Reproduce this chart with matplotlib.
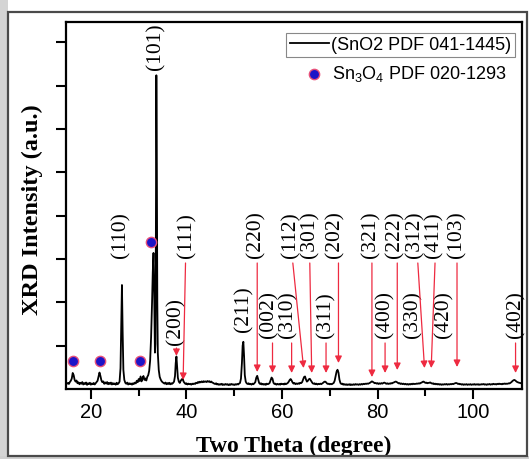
import matplotlib.pyplot as plt
from matplotlib.patches import Rectangle

# XRD pattern (2theta in degrees, intensity in a.u.)
two_theta = [
    15.0, 15.2, 15.4, 15.6, 15.8, 16.0, 16.2, 16.4, 16.6, 16.8,
    17.0, 17.2, 17.4, 17.6, 17.8, 18.0, 18.2, 18.4, 18.6, 18.8,
    19.0, 19.2, 19.4, 19.6, 19.8, 20.0, 20.2, 20.4, 20.6, 20.8,
    21.0, 21.2, 21.4, 21.6, 21.8, 22.0, 22.2, 22.4, 22.6, 22.8,
    23.0, 23.2, 23.4, 23.6, 23.8, 24.0, 24.2, 24.4, 24.6, 24.8,
    25.0, 25.2, 25.4, 25.6, 25.8, 26.0, 26.2, 26.35, 26.5, 26.65,
    26.8, 27.0, 27.2, 27.4, 27.6, 27.8, 28.0, 28.2, 28.4, 28.6,
    28.8, 29.0, 29.2, 29.4, 29.6, 29.8, 30.0, 30.2, 30.4, 30.6,
    30.8, 31.0, 31.2, 31.4, 31.6, 31.8, 32.0, 32.2, 32.4, 32.6,
    32.8, 32.95, 33.1, 33.25, 33.4, 33.5, 33.6, 33.7, 33.8, 33.9,
    34.0, 34.2, 34.4, 34.6, 34.8, 35.0, 35.2, 35.4, 35.6, 35.8,
    36.0, 36.2, 36.4, 36.6, 36.8, 37.0, 37.2, 37.4, 37.6, 37.75,
    37.9, 38.05, 38.2, 38.4, 38.6, 38.8, 39.0, 39.2, 39.4, 39.6,
    39.8, 40.0, 40.2, 40.4, 40.6, 40.8, 41.0, 41.2, 41.4, 41.6,
    41.8, 42.0, 42.2, 42.4, 42.6, 42.8, 43.0, 43.2, 43.4, 43.6,
    43.8, 44.0, 44.2, 44.4, 44.6, 44.8, 45.0, 45.2, 45.4, 45.6,
    45.8, 46.0, 46.2, 46.4, 46.6, 46.8, 47.0, 47.2, 47.4, 47.6,
    47.8, 48.0, 48.2, 48.4, 48.6, 48.8, 49.0, 49.2, 49.4, 49.6,
    49.8, 50.0, 50.2, 50.4, 50.6, 50.8, 51.0, 51.2, 51.4, 51.6,
    51.75, 51.9, 52.05, 52.2, 52.4, 52.6, 52.8, 53.0, 53.2, 53.4,
    53.6, 53.8, 54.0, 54.2, 54.4, 54.6, 54.8, 55.0, 55.2, 55.4,
    55.6, 55.8, 56.0, 56.2, 56.4, 56.6, 56.8, 57.0, 57.2, 57.4,
    57.6, 57.8, 58.0, 58.2, 58.4, 58.6, 58.8, 59.0, 59.2, 59.4,
    59.6, 59.8, 60.0, 60.2, 60.4, 60.6, 60.8, 61.0, 61.2, 61.4,
    61.6, 61.8, 62.0, 62.2, 62.4, 62.6, 62.8, 63.0, 63.2, 63.4,
    63.6, 63.8, 64.0, 64.2, 64.4, 64.6, 64.8, 65.0, 65.2, 65.4,
    65.6, 65.8, 66.0, 66.2, 66.4, 66.6, 66.8, 67.0, 67.2, 67.4,
    67.6, 67.8, 68.0, 68.2, 68.4, 68.6, 68.8, 69.0, 69.2, 69.4,
    69.6, 69.8, 70.0, 70.2, 70.4, 70.6, 70.8, 71.0, 71.2, 71.4,
    71.6, 71.8, 72.0, 72.2, 72.4, 72.6, 72.8, 73.0, 73.2, 73.4,
    73.6, 73.8, 74.0, 74.2, 74.4, 74.6, 74.8, 75.0, 75.2, 75.4,
    75.6, 75.8, 76.0, 76.2, 76.4, 76.6, 76.8, 77.0, 77.2, 77.4,
    77.6, 77.8, 78.0, 78.2, 78.4, 78.6, 78.8, 79.0, 79.2, 79.4,
    79.6, 79.8, 80.0, 80.2, 80.4, 80.6, 80.8, 81.0, 81.2, 81.4,
    81.6, 81.8, 82.0, 82.2, 82.4, 82.6, 82.8, 83.0, 83.2, 83.4,
    83.6, 83.8, 84.0, 84.2, 84.4, 84.6, 84.8, 85.0, 85.2, 85.4,
    85.6, 85.8, 86.0, 86.2, 86.4, 86.6, 86.8, 87.0, 87.2, 87.4,
    87.6, 87.8, 88.0, 88.2, 88.4, 88.6, 88.8, 89.0, 89.2, 89.4,
    89.6, 89.8, 90.0, 90.2, 90.4, 90.6, 90.8, 91.0, 91.2, 91.4,
    91.6, 91.8, 92.0, 92.2, 92.4, 92.6, 92.8, 93.0, 93.2, 93.4,
    93.6, 93.8, 94.0, 94.2, 94.4, 94.6, 94.8, 95.0, 95.2, 95.4,
    95.6, 95.8, 96.0, 96.2, 96.4, 96.6, 96.8, 97.0, 97.2, 97.4,
    97.6, 97.8, 98.0, 98.2, 98.4, 98.6, 98.8, 99.0, 99.2, 99.4,
    99.6, 99.8, 100.0, 100.2, 100.4, 100.6, 100.8, 101.0, 101.2, 101.4,
    101.6, 101.8, 102.0, 102.2, 102.4, 102.6, 102.8, 103.0, 103.2, 103.4,
    103.6, 103.8, 104.0, 104.2, 104.4, 104.6, 104.8, 105.0, 105.2, 105.4,
    105.6, 105.8, 106.0, 106.2, 106.4, 106.6, 106.8, 107.0, 107.2, 107.4,
    107.6, 107.8, 108.0, 108.2, 108.4, 108.6, 108.8, 109.0, 109.2, 109.4,
    109.6, 109.8, 110.0,
]
intensity = [
    62, 70, 58, 80, 95, 120, 185, 160, 105, 85,
    98, 66, 78, 55, 72, 60, 80, 52, 68, 58,
    75, 48, 66, 58, 72, 50, 64, 55, 70, 52,
    66, 78, 95, 140, 190, 150, 100, 78, 88, 60,
    76, 62, 80, 55, 70, 58, 74, 52, 68, 56,
    64, 50, 72, 55, 66, 85, 240, 700, 1200, 650,
    220, 105, 72, 60, 74, 52, 66, 58, 64, 50,
    66, 58, 74, 64, 95, 78, 115, 92, 145, 88,
    125, 150, 105, 122, 98, 140, 160, 210, 330, 600,
    1000, 1350, 1570, 1100, 420, 520, 1800, 3620, 2600, 1000,
    420, 220, 140, 110, 90, 78, 70, 62, 75, 55,
    68, 58, 72, 54, 66, 60, 70, 85, 150, 300,
    375, 260, 130, 85, 70, 95, 110, 120, 85, 70,
    58, 66, 52, 62, 55, 60, 50, 62, 56, 64,
    58, 72, 66, 80, 72, 84, 76, 88, 78, 90,
    82, 88, 80, 92, 84, 90, 78, 86, 74, 70,
    62, 58, 66, 52, 58, 48, 56, 50, 60, 46,
    54, 48, 58, 50, 56, 45, 55, 48, 58, 50,
    54, 46, 56, 50, 58, 52, 62, 70, 120, 300,
    500, 545, 380, 160, 85, 65, 58, 66, 55, 60,
    50, 62, 55, 66, 80, 130, 152, 110, 70, 58,
    66, 52, 60, 50, 58, 48, 62, 55, 60, 70,
    100, 132, 118, 72, 58, 62, 50, 60, 52, 58,
    50, 62, 55, 60, 52, 64, 56, 62, 70, 85,
    105, 115, 98, 75, 62, 70, 56, 64, 58, 66,
    60, 72, 68, 80, 110, 138, 145, 110, 85, 95,
    112, 118, 100, 80, 66, 60, 66, 55, 62, 52,
    60, 55, 62, 56, 64, 72, 82, 86, 78, 64,
    58, 62, 54, 60, 55, 62, 70, 95, 150, 200,
    222, 190, 110, 70, 58, 62, 50, 56, 48, 55,
    46, 54, 48, 56, 45, 53, 47, 55, 48, 57,
    50, 55, 48, 56, 50, 58, 52, 60, 55, 62,
    58, 64, 60, 66, 72, 80, 88, 82, 74, 66,
    70, 62, 68, 58, 66, 60, 68, 62, 70, 74,
    68, 60, 66, 58, 64, 60, 68, 64, 72, 76,
    82, 86, 80, 72, 64, 68, 58, 64, 56, 62,
    54, 60, 52, 58, 50, 58, 52, 60, 54, 62,
    56, 60, 58, 64, 60, 66, 62, 70, 74, 82,
    86, 78, 70, 74, 66, 70, 72, 76, 68, 62,
    66, 56, 62, 54, 60, 52, 58, 50, 56, 48,
    55, 50, 57, 52, 58, 50, 56, 52, 58, 54,
    60, 56, 62, 66, 70, 66, 58, 62, 54, 58,
    50, 56, 48, 55, 50, 56, 48, 54, 50, 56,
    48, 54, 50, 57, 49, 55, 50, 56, 48, 54,
    50, 57, 52, 58, 50, 55, 48, 56, 52, 58,
    50, 56, 52, 60, 54, 58, 52, 60, 55, 62,
    56, 60, 54, 62, 58, 64, 58, 62, 60, 66,
    64, 72, 80, 92, 100, 105, 98, 88, 80, 76,
    72, 70, 66,
]

# Sn3O4 reflections (marked with dots)
sn3o4_theta = [16.2, 22.0, 30.3, 32.5]
sn3o4_mark = [323, 323, 323, 1700]

# SnO2 hkl labels
hkl_names = ["(101)", "(110)", "(111)", "(220)", "(112)", "(301)", "(202)",
             "(321)", "(222)", "(312)", "(411)", "(103)",
             "(200)", "(211)", "(002)", "(310)", "(311)", "(400)", "(330)",
             "(420)", "(402)"]
hkl_x = [33.7, 26.35, 40.0, 54.5, 61.85, 65.75, 71.1,
         78.6, 83.7, 87.8, 91.7, 96.5,
         37.7, 52.0, 57.3, 61.2, 69.2, 81.55, 87.4,
         93.95, 108.85]
hkl_y = [3680, 1512, 1512, 1512, 1512, 1512, 1512,
         1512, 1512, 1512, 1512, 1512,
         508, 658, 589, 589, 589, 589, 589,
         589, 589]

# red arrows: from label down to the reflection
arrow_x0 = [39.8, 37.9, 54.8, 58.0, 62.0, 62.25, 65.8, 69.2, 71.8, 78.8,
            81.55, 84.1, 88.4, 92.0, 96.6, 108.85]
arrow_y0 = [1454, 473, 1454, 531, 531, 1454, 1454, 531, 1454, 1454,
            531, 1454, 1454, 1454, 1454, 531]
arrow_x1 = [39.3, 37.9, 54.8, 58.0, 62.0, 64.5, 66.2, 69.2, 71.8, 78.8,
            81.55, 84.1, 89.8, 91.2, 96.6, 108.85]
arrow_y1 = [104, 381, 196, 185, 185, 242, 185, 185, 300, 138,
            185, 219, 242, 242, 254, 185]

SERIF = "Liberation Serif"
SANS = "Liberation Sans"
RED = "#ee2a40"

plt.rcParams["mathtext.default"] = "regular"
plt.rcParams["font.family"] = SANS

fig = plt.figure(figsize=(5.29, 4.59), dpi=100)

# screenshot-like frame
fig.add_artist(Rectangle((0, 0), 8 / 529, 1, transform=fig.transFigure,
                         facecolor="#d4d4d4", edgecolor="none"))
fig.add_artist(Rectangle((0, 0), 1, 3 / 459, transform=fig.transFigure,
                         facecolor="#cfcfcf", edgecolor="none"))
fig.add_artist(Rectangle((8 / 529, 3 / 459), 519 / 529, 444 / 459,
                         transform=fig.transFigure, fill=False,
                         edgecolor="#4a4a4a", lw=1.6))

ax = fig.add_axes([0.1248, 0.1525, 0.862, 0.7996])

line, = ax.plot(two_theta, intensity, color="black", lw=1.3,
                label="(SnO2 PDF 041-1445)")
dots = ax.scatter(sn3o4_theta, sn3o4_mark, s=55, color="#1c14c8",
                  edgecolors="#e8507a", linewidths=1.0, zorder=3,
                  label="Sn$_3$O$_4$ PDF 020-1293")

for name, x, y in zip(hkl_names, hkl_x, hkl_y):
    ax.text(x, y, name, rotation=90, ha="center", va="bottom",
            fontsize=15.5, family=SERIF)

for x0, y0, x1, y1 in zip(arrow_x0, arrow_y0, arrow_x1, arrow_y1):
    ax.annotate("", xy=(x1, y1), xytext=(x0, y0),
                arrowprops=dict(arrowstyle="-|>", color=RED, lw=0.9,
                                mutation_scale=10, shrinkA=0, shrinkB=0))

ax.set_xlim(14.8, 110.2)
ax.set_ylim(0, 4235)
ax.set_xticks([20, 40, 60, 80, 100])
ax.set_xticks([30, 50, 70, 90], minor=True)
ax.set_yticks(range(500, 4001, 500))
ax.set_yticklabels([])
ax.tick_params(axis="x", which="major", direction="out", length=7,
               width=1.5, labelsize=14.5, pad=3)
ax.tick_params(axis="x", which="minor", direction="out", length=5, width=1.5)
ax.tick_params(axis="y", direction="out", length=7, width=1.5)
for sp in ax.spines.values():
    sp.set_linewidth(1.6)

ax.set_xlabel("Two Theta (degree)", fontsize=17, fontweight="bold",
              family=SERIF)
ax.set_ylabel("XRD Intensity (a.u.)", fontsize=17.5, fontweight="bold",
              family=SERIF)
ax.xaxis.set_label_coords(0.5, -0.128)
ax.yaxis.set_label_coords(-0.050, 0.49)

leg1 = ax.legend(handles=[line], loc="upper right",
                 bbox_to_anchor=(0.9846, 0.970), borderaxespad=0,
                 fontsize=13, fancybox=False, framealpha=1,
                 edgecolor="#888888", borderpad=0.2, handlelength=2.2,
                 handletextpad=0.1)
leg1.get_frame().set_linewidth(0.8)
ax.add_artist(leg1)
ax.legend(handles=[dots], loc="upper right", bbox_to_anchor=(0.967, 0.886),
          borderaxespad=0, borderpad=0, fontsize=13, frameon=False,
          handlelength=1.4, handletextpad=0.3)

fig.savefig("out.png", dpi=100)
